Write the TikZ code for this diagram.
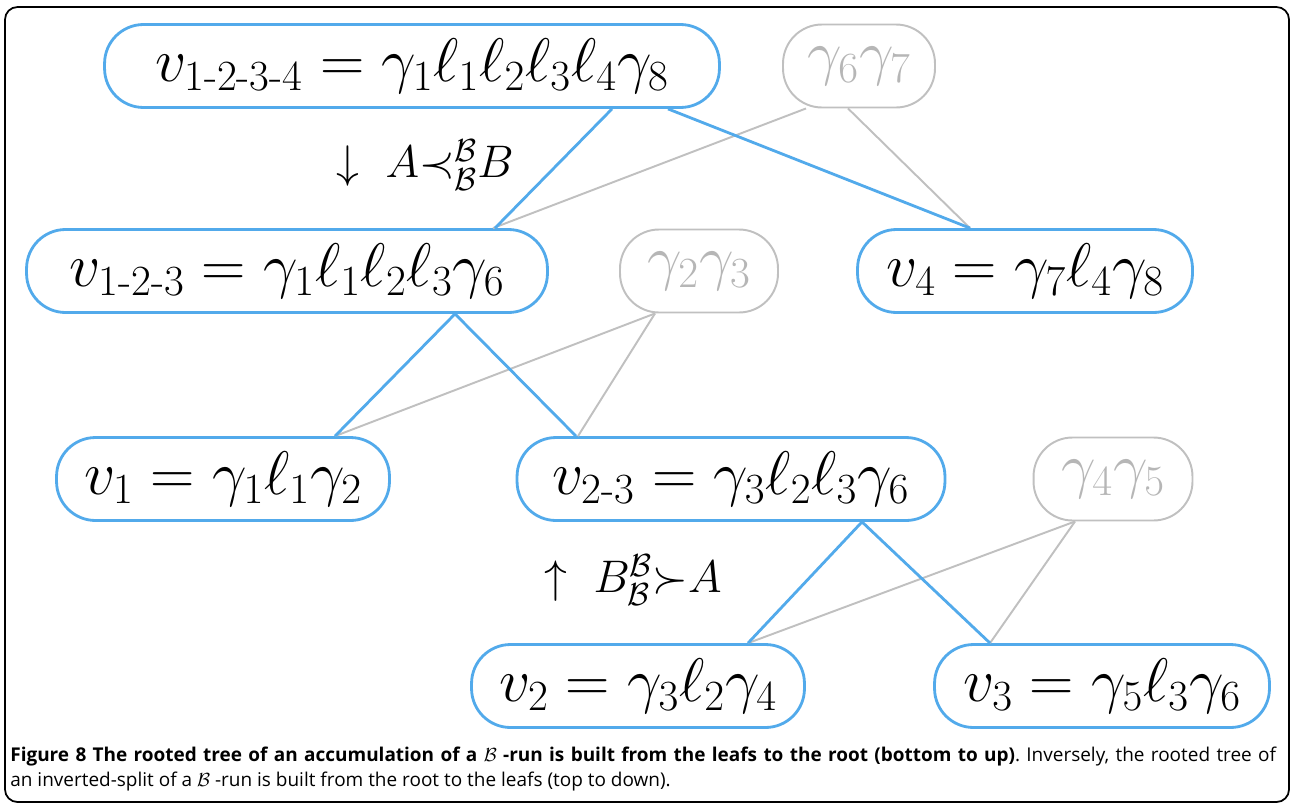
\documentclass[tikz,border=0pt]{standalone}
\usepackage{fix-cm}
\usepackage{amsmath}
\usepackage{amssymb}
\usepackage{fontspec}
\usepackage{tikz}
\usetikzlibrary{calc}
\newfontfamily\captionfont{Open Sans}
\definecolor{treeblue}{RGB}{82,170,235}
\definecolor{treegray}{RGB}{192,192,192}

\begin{document}
\begin{tikzpicture}[x=0.02cm, y=-0.02cm,
    vbox/.style={draw=treeblue, line width=1.6pt, fill=white, rounded corners=0.78cm, minimum height=1.66cm, inner sep=0pt, font=\fontsize{35}{40}\selectfont},
    gbox/.style={vbox, draw=treegray, line width=1.1pt, text=treegray!95!black},
    tree/.style={treeblue, line width=1.6pt},
    link/.style={treegray, line width=1.1pt},
    lbl/.style={font=\fontsize{26}{30}\selectfont}
]
    \useasboundingbox (0,0) rectangle (1290,805);

    % Outer frame
    \draw[line width=1pt, rounded corners=0.25cm] (5,7) rectangle (1289,802);

    % Root and first split
    \node[vbox, minimum width=12.3cm] (root) at (412,66) {$v_{\text{1-2-3-4}} = \gamma_1\ell_1\ell_2\ell_3\ell_4\gamma_8$};
    \node[gbox, minimum width=3.04cm] (g67) at (859,66) {$\gamma_6\gamma_7$};

    % Second row
    \node[vbox, minimum width=10.42cm] (v123) at (287,271) {$v_{\text{1-2-3}} = \gamma_1\ell_1\ell_2\ell_3\gamma_6$};
    \node[gbox, minimum width=3.16cm] (g23) at (699,271) {$\gamma_2\gamma_3$};
    \node[vbox, minimum width=6.7cm] (v4) at (1025,271) {$v_4 = \gamma_7\ell_4\gamma_8$};

    % Third row
    \node[vbox, minimum width=6.66cm] (v1) at (223,479) {$v_1 = \gamma_1\ell_1\gamma_2$};
    \node[vbox, minimum width=8.56cm] (v23) at (731,479) {$v_{\text{2-3}} = \gamma_3\ell_2\ell_3\gamma_6$};
    \node[gbox, minimum width=3.18cm] (g45) at (1113,479) {$\gamma_4\gamma_5$};

    % Leaves
    \node[vbox, minimum width=6.66cm] (v2) at (638,686) {$v_2 = \gamma_3\ell_2\gamma_4$};
    \node[vbox, minimum width=6.7cm] (v3) at (1102,686) {$v_3 = \gamma_5\ell_3\gamma_6$};

    % Direction labels
    \node[lbl] (split) at (425,165) {$\downarrow\ A\mathord{\prec}^{\mathcal{B}}_{\mathcal{B}}B$};
    \node[lbl] (accum) at (633,580) {$\uparrow\ B^{\mathcal{B}}_{\mathcal{B}}\mathord{\succ}A$};

    % Grey links
    \draw[link] ($(g67.south)+(-53,0)$) -- ($(v123.north)+(206,0)$);
    \draw[link] ($(g67.south)+(-11,0)$) -- ($(v4.north)+(-55,0)$);
    \draw[link] ($(g23.south)+(-44,0)$) -- ($(v1.north)+(112,0)$);
    \draw[link] ($(g23.south)+(-44,0)$) -- ($(v23.north)+(-153,0)$);
    \draw[link] ($(g45.south)+(-38,0)$) -- ($(v2.north)+(110,0)$);
    \draw[link] ($(g45.south)+(-38,0)$) -- ($(v3.north)+(-112,0)$);

    % Tree edges
    \draw[tree] ($(root.south)+(200,0)$) -- ($(v123.north)+(208,0)$);
    \draw[tree] ($(root.south)+(256,0)$) -- ($(v4.north)+(-55,0)$);
    \draw[tree] ($(v123.south)+(168,0)$) -- ($(v1.north)+(112,0)$);
    \draw[tree] ($(v123.south)+(168,0)$) -- ($(v23.north)+(-155,0)$);
    \draw[tree] ($(v23.south)+(131,0)$) -- ($(v2.north)+(110,0)$);
    \draw[tree] ($(v23.south)+(131,0)$) -- ($(v3.north)+(-112,0)$);

    % Caption
    \node[anchor=north west, inner sep=0pt, text width=25.32cm, align=justify, font=\captionfont\fontsize{10.8}{14}\selectfont\frenchspacing] (caption) at (10,747)
        {{\bfseries Figure 8 The rooted tree of an accumulation of a $\mathcal{B}$ -run is built from the leafs to the root (bottom to up)}. Inversely, the rooted tree of\linebreak an inverted-split of a $\mathcal{B}$ -run is built from the root to the leafs (top to down).};
\end{tikzpicture}
\end{document}
